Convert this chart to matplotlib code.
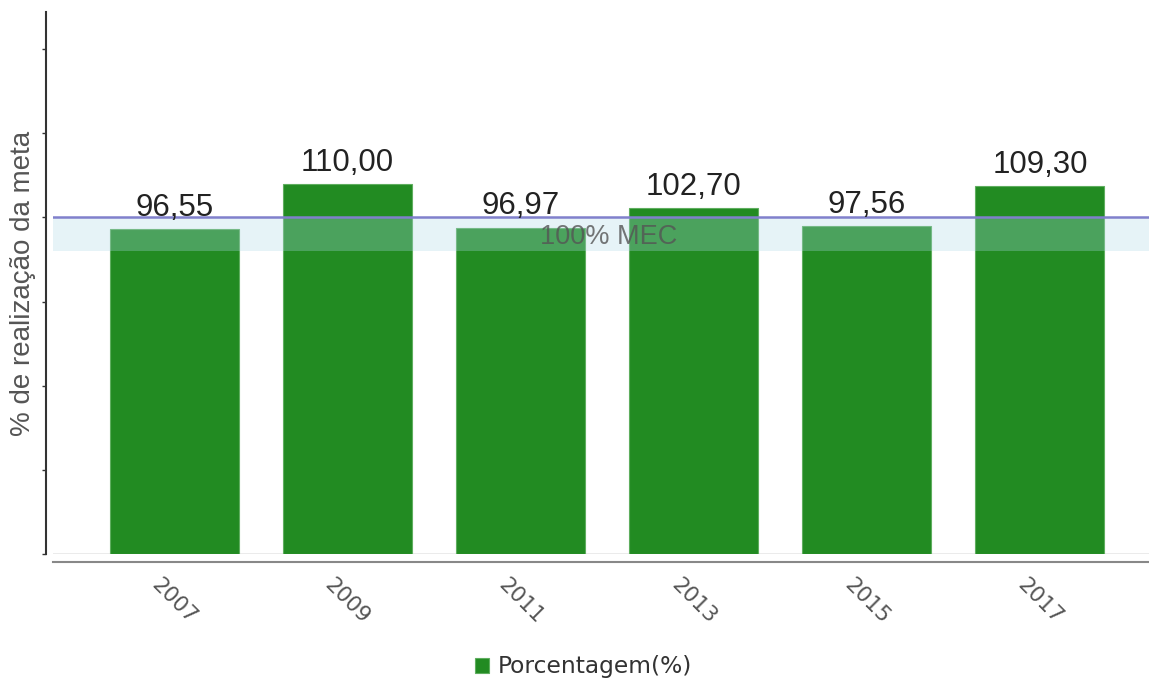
import matplotlib
matplotlib.use("Agg")
import matplotlib.pyplot as plt
import numpy as np

anos = ["2007", "2009", "2011", "2013", "2015", "2017"]
porcentagem = [96.55, 110.00, 96.97, 102.70, 97.56, 109.30]
rotulos = ["96,55", "110,00", "96,97", "102,70", "97,56", "109,30"]
meta = 100
faixa = (90, 100)

fig = plt.figure(figsize=(11.49, 6.84), dpi=100)
ax = fig.add_axes([53 / 1149, 130 / 684, 1096 / 1149, 542 / 684])

# spines first: set_position resets the ticks
ax.spines["top"].set_visible(False)
ax.spines["right"].set_visible(False)
ax.spines["left"].set_position(("outward", 5))
ax.spines["left"].set_color("#333333")
ax.spines["left"].set_linewidth(1.5)
ax.spines["bottom"].set_position(("outward", 5.8))
ax.spines["bottom"].set_color("#888888")
ax.spines["bottom"].set_linewidth(1.5)

x = np.arange(len(anos))
bars = ax.bar(x, porcentagem, width=0.745, color="#228B22", edgecolor="#5fae5f",
              linewidth=0.8, label="Porcentagem(%)", zorder=2)

for xi, v, t in zip(x, porcentagem, rotulos):
    ax.text(xi, v + 1.8, t, ha="center", va="bottom", fontsize=22.5,
            family="Liberation Sans", color="#222222", zorder=5)

ax.axhspan(faixa[0], faixa[1], color="#add8e6", alpha=0.3, lw=0, zorder=3)
ax.axhline(meta, color="#8080cc", lw=1.8, zorder=4)
ax.text(0.507, 94.2, "100% MEC", transform=ax.get_yaxis_transform(),
        ha="center", va="center", fontsize=19.5, family="Liberation Sans",
        color="#555555", alpha=0.8, zorder=4)
ax.axhline(0, color="#e8e8e8", lw=1.2, zorder=1)

ax.set_xlim(-0.7, 5.63)
ax.set_ylim(0, 161)
ax.set_yticks(np.arange(0, 151, 25))
ax.set_yticklabels([])
ax.tick_params(axis="y", length=3, width=1, color="#333333", direction="out")
ax.set_xticks(x)
ax.set_xticklabels(anos, rotation=-45, ha="center", va="top",
                   fontsize=15.5, color="#555555")
ax.tick_params(axis="x", length=0, pad=9)
for lbl in ax.get_xticklabels():
    lbl.set_x(lbl.get_position()[0])

ax.set_ylabel("% de realização da meta", fontsize=20, color="#555555",
              family="Liberation Sans")
ax.yaxis.set_label_coords(-0.0155, 0.5)

ax.legend(handles=[bars], loc="center", bbox_to_anchor=(0.508, 0.025),
          bbox_transform=fig.transFigure, frameon=False, fontsize=16.8,
          handlelength=0.6, handleheight=0.6, handletextpad=0.4,
          labelcolor="#333333", borderpad=0)

fig.savefig("out.png", dpi=100)
